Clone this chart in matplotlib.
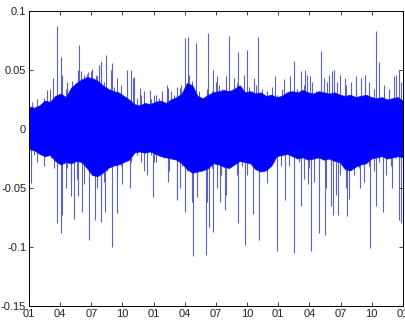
import matplotlib
matplotlib.use('Agg')
import matplotlib.pyplot as plt
import numpy as np

plt.rcParams['font.family'] = ['Liberation Sans', 'DejaVu Sans']
plt.rcParams['axes.unicode_minus'] = False

# solid part of the band, half-month bins
band_upper = [0.019, 0.018, 0.020, 0.024, 0.023, 0.028, 0.030, 0.027, 0.035, 0.039,
              0.042, 0.044, 0.043, 0.041, 0.037, 0.034, 0.032, 0.031, 0.028, 0.025,
              0.021, 0.020, 0.022, 0.021, 0.023, 0.024, 0.022, 0.025, 0.027, 0.030,
              0.039, 0.037, 0.028, 0.026, 0.029, 0.031, 0.032, 0.033, 0.032, 0.034,
              0.037, 0.031, 0.032, 0.030, 0.031, 0.028, 0.029, 0.027, 0.028, 0.031,
              0.032, 0.031, 0.033, 0.031, 0.030, 0.032, 0.031, 0.030, 0.031, 0.029,
              0.028, 0.029, 0.027, 0.028, 0.029, 0.027, 0.026, 0.027, 0.025, 0.026,
              0.027, 0.024]
band_lower = [-0.017, -0.018, -0.021, -0.023, -0.022, -0.027, -0.030, -0.028, -0.029, -0.027,
              -0.028, -0.033, -0.039, -0.040, -0.037, -0.033, -0.031, -0.030, -0.028, -0.026,
              -0.020, -0.019, -0.020, -0.019, -0.021, -0.023, -0.024, -0.025, -0.026, -0.029,
              -0.034, -0.037, -0.036, -0.035, -0.033, -0.029, -0.030, -0.032, -0.033, -0.030,
              -0.027, -0.028, -0.029, -0.034, -0.036, -0.035, -0.031, -0.023, -0.022, -0.021,
              -0.023, -0.025, -0.024, -0.026, -0.025, -0.024, -0.026, -0.025, -0.027, -0.028,
              -0.034, -0.035, -0.032, -0.030, -0.029, -0.025, -0.024, -0.023, -0.025, -0.024,
              -0.023, -0.024]

# large isolated spikes (month, value)
up_month = [2.69, 3.08, 3.66, 4.72, 4.81, 5.68, 6.54, 6.93, 7.41, 7.99, 9.43, 10.01, 10.68,
            11.65, 13.38, 14.53, 15.01, 15.30, 16.07, 17.23, 17.71, 18.09, 18.96, 19.25,
            20.12, 20.98, 21.66, 22.04, 23.68, 24.54, 25.12, 25.51, 26.56, 27.05, 28.10,
            28.68, 29.36, 30.41, 31.47, 32.34, 33.40, 35.13, 35.61]
up_value = [0.087, 0.061, 0.040, 0.050, 0.071, 0.048, 0.045, 0.057, 0.063, 0.056, 0.050, 0.043, 0.035,
            0.033, 0.035, 0.035, 0.077, 0.078, 0.073, 0.081, 0.050, 0.045, 0.045, 0.079,
            0.065, 0.067, 0.043, 0.078, 0.045, 0.042, 0.045, 0.058, 0.050, 0.045, 0.066,
            0.040, 0.050, 0.043, 0.045, 0.042, 0.083, 0.045, 0.050]
dn_month = [0.19, 2.69, 3.08, 3.18, 3.56, 4.04, 4.33, 4.72, 5.10, 5.77, 6.35, 6.93, 7.31, 7.99,
            8.47, 8.95, 9.72, 11.93, 13.38, 14.24, 14.53, 15.01, 15.78, 16.17, 17.04, 17.32,
            17.71, 18.38, 18.86, 20.12, 20.79, 21.56, 22.14, 22.91, 23.87, 24.64, 25.51,
            26.18, 26.85, 27.14, 27.91, 28.49, 29.07, 29.26, 29.74, 30.61, 31.86, 32.82,
            33.40, 34.07, 34.94, 35.61, 35.80]
dn_value = [-0.046, -0.080, -0.088, -0.073, -0.050, -0.057, -0.076, -0.057, -0.070, -0.094, -0.077, -0.079, -0.070, -0.100,
            -0.071, -0.047, -0.050, -0.058, -0.045, -0.060, -0.050, -0.070, -0.108, -0.058, -0.107, -0.083,
            -0.087, -0.062, -0.069, -0.080, -0.098, -0.072, -0.094, -0.046, -0.103, -0.060, -0.105,
            -0.065, -0.047, -0.103, -0.088, -0.090, -0.065, -0.073, -0.073, -0.074, -0.050, -0.101,
            -0.065, -0.070, -0.050, -0.077, -0.080]

# small spikes along the band edges
edge_up_month = [0.32, 0.80, 1.44, 1.76, 1.99, 2.31, 3.05, 3.21, 3.53, 3.85, 4.17, 4.49, 4.97,
                 5.29, 5.61, 5.94, 6.10, 6.42, 6.74, 6.90, 7.22, 7.86, 8.18, 8.50, 8.82, 9.14,
                 9.46, 9.79, 10.11, 10.43, 10.75, 11.07, 11.39, 11.71, 12.03,
                 12.19, 12.51, 12.83, 13.31, 13.63, 13.96, 14.28, 14.60, 15.40, 15.72, 16.36,
                 16.68, 17.16, 17.64, 17.97, 18.29, 18.61, 18.93, 19.73, 20.05, 20.69, 21.17,
                 21.49, 21.82, 22.46, 22.94, 23.42, 23.90,
                 24.38, 24.70, 25.02, 25.82, 26.15, 26.47, 26.79, 27.27, 27.59, 28.39, 28.87,
                 29.19, 29.67, 29.99, 30.48, 30.96, 31.44, 31.92, 32.34, 32.72, 33.20, 33.68,
                 34.17, 34.65, 35.29, 35.77]
edge_up_value = [0.023, 0.025, 0.026, 0.033, 0.034, 0.043, 0.036, 0.046, 0.034, 0.027, 0.041, 0.037, 0.049,
                 0.046, 0.047, 0.049, 0.051, 0.046, 0.054, 0.057, 0.040, 0.050, 0.036, 0.043, 0.037, 0.026,
                 0.032, 0.050, 0.044, 0.026, 0.029, 0.032, 0.020, 0.025, 0.029,
                 0.029, 0.026, 0.032, 0.037, 0.032, 0.029, 0.036, 0.037, 0.046, 0.041, 0.032,
                 0.026, 0.034, 0.032, 0.040, 0.037, 0.034, 0.039, 0.043, 0.039, 0.046, 0.036,
                 0.032, 0.037, 0.034, 0.032, 0.036, 0.029,
                 0.034, 0.026, 0.032, 0.034, 0.049, 0.037, 0.046, 0.040, 0.032, 0.043, 0.046,
                 0.049, 0.040, 0.046, 0.037, 0.040, 0.034, 0.043, 0.046, 0.040, 0.034, 0.057,
                 0.037, 0.034, 0.046, 0.040]
edge_dn_month = [0.16, 0.48, 0.80, 1.44, 1.76, 2.09, 2.41, 2.73, 3.37, 3.69, 4.01, 4.33, 4.65,
                 4.97, 5.29, 5.61, 5.94, 6.26, 6.58, 6.90, 7.22, 7.54, 7.86, 8.18, 8.50, 8.82,
                 9.14, 9.46, 9.79, 10.11, 10.43, 10.75, 11.07, 11.39, 11.71, 12.03,
                 12.19, 12.51, 12.99, 13.47, 13.96, 14.28, 14.76, 15.24, 15.72, 16.20, 16.68,
                 17.16, 17.64, 18.13, 18.45, 18.93, 19.25, 19.73, 20.05, 20.53, 21.01, 21.65,
                 22.14, 22.62, 23.10, 23.58, 24.06,
                 24.22, 24.54, 25.02, 25.98, 26.47, 26.95, 27.43, 27.91, 28.55, 29.03, 29.51,
                 29.99, 30.48, 30.80, 31.28, 31.76, 32.24, 32.72, 33.20, 33.68, 34.33, 34.81,
                 35.29, 35.77]
edge_dn_value = [-0.031, -0.022, -0.028, -0.031, -0.022, -0.025, -0.033, -0.031, -0.028, -0.033, -0.045, -0.031, -0.042,
                 -0.022, -0.047, -0.033, -0.025, -0.039, -0.050, -0.056, -0.045, -0.036, -0.031, -0.022, -0.042, -0.031,
                 -0.022, -0.025, -0.028, -0.016, -0.022, -0.028, -0.036, -0.039, -0.022, -0.028,
                 -0.028, -0.022, -0.025, -0.036, -0.022, -0.056, -0.031, -0.036, -0.062, -0.039, -0.031,
                 -0.062, -0.033, -0.050, -0.039, -0.056, -0.033, -0.019, -0.039, -0.031, -0.039, -0.031,
                 -0.045, -0.033, -0.022, -0.028, -0.022,
                 -0.031, -0.022, -0.031, -0.028, -0.042, -0.033, -0.045, -0.031, -0.050, -0.036, -0.056,
                 -0.039, -0.050, -0.059, -0.039, -0.033, -0.045, -0.031, -0.036, -0.028, -0.039, -0.031,
                 -0.025, -0.033]

tick_labels = ['01', '04', '07', '10'] * 3 + ['01']

fig = plt.figure(figsize=(4.06, 3.24), dpi=100)
ax = fig.add_axes([0.0714, 0.0556, 0.921, 0.9105])

spike_color = '#5a62c4'
ax.vlines(up_month, 0, up_value, color=spike_color, linewidth=0.8, zorder=1)
ax.vlines(dn_month, 0, dn_value, color=spike_color, linewidth=0.8, zorder=1)
ax.vlines(edge_up_month, 0, edge_up_value, color=spike_color, linewidth=0.8, zorder=1)
ax.vlines(edge_dn_month, 0, edge_dn_value, color=spike_color, linewidth=0.8, zorder=1)

bin_x = np.linspace(0, 36, len(band_upper))
ax.fill_between(bin_x, band_lower, band_upper, color='#0000ff', linewidth=0.6,
                edgecolor='#1010f0', zorder=2)

ax.set_xlim(0, 36)
ax.set_ylim(-0.15, 0.1)
ax.set_xticks(np.arange(0, 37, 3))
ax.set_xticklabels(tick_labels)
ax.set_yticks([-0.15, -0.1, -0.05, 0, 0.05, 0.1])
ax.set_yticklabels(['-0.15', '-0.1', '-0.05', '0', '0.05', '0.1'])
ax.tick_params(direction='in', top=True, right=True, length=3, width=0.6,
               labelsize=8, pad=2, colors='#222222')
for s in ax.spines.values():
    s.set_linewidth(0.7)

fig.savefig('out.png', dpi=100)
